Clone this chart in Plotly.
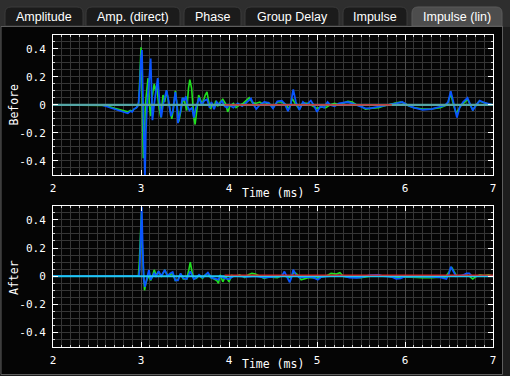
import plotly.graph_objects as go

# ---------------- data ----------------
tab_labels = ["Amplitude", "Amp. (direct)", "Phase", "Group Delay", "Impulse", "Impulse (lin)"]
active_tab = "Impulse (lin)"

x_range = [2, 7]
y_range = [-0.5, 0.5]
x_tickvals = [2, 3, 4, 5, 6, 7]
x_ticktext = ["2", "3", "4", "5", "6", "7"]
y_tickvals = [-0.4, -0.2, 0, 0.2, 0.4]
y_ticktext = ["-0.4", "-0.2", "0", "0.2", "0.4"]
x_title = "Time (ms)"
panel_titles = ["Before", "After"]

# Before: green trace
before_green_t = [2.0, 2.55, 2.6, 2.7, 2.8, 2.85, 2.88, 2.9, 2.92, 2.94, 2.96, 2.975, 2.99, 3.0, 3.008,
                  3.018, 3.026, 3.035, 3.05, 3.065, 3.08, 3.095, 3.11, 3.125, 3.15, 3.165, 3.18, 3.2,
                  3.225, 3.25, 3.27, 3.29, 3.31, 3.33, 3.35, 3.37, 3.39, 3.41, 3.43, 3.46, 3.48, 3.5,
                  3.52, 3.54, 3.555, 3.575, 3.6, 3.615, 3.635, 3.655, 3.68, 3.7, 3.73, 3.75, 3.77,
                  3.79, 3.81, 3.83, 3.85, 3.87, 3.9, 3.93, 3.96, 3.985, 4.01, 4.05, 4.08, 4.12, 4.16,
                  4.2, 4.23, 4.26, 4.3, 4.35, 4.4, 4.45, 4.5, 4.55, 4.6, 4.65, 4.68, 4.72, 4.76, 4.8,
                  4.84, 4.9, 4.95, 5.0, 5.05, 5.1, 5.15, 5.2, 5.25, 5.3, 5.35, 5.4, 5.45, 5.5, 5.55,
                  5.6, 5.65, 5.7, 5.75, 5.8, 5.9, 5.95, 6.0, 6.05, 6.1, 6.2, 6.3, 6.4, 6.45, 6.48,
                  6.5, 6.52, 6.55, 6.58, 6.61, 6.64, 6.68, 6.71, 6.74, 6.77, 6.8, 6.84, 6.88, 6.95, 7.0]
before_green_v = [0, 0, -0.005, -0.025, -0.045, -0.05, -0.04, -0.045, -0.03, -0.025, -0.01, 0.02, 0.25,
                  0.41, 0.3, -0.1, -0.38, -0.3, 0.0, 0.1, 0.19, 0.0, -0.08, 0.05, 0.15, 0.1, 0.14, 0.0,
                  -0.09, 0.07, 0.02, 0.1, 0.03, -0.04, -0.1, -0.02, 0.1, 0.0, -0.12, -0.02, 0.05, 0.01,
                  -0.04, 0.12, 0.18, 0.12, -0.09, -0.14, -0.04, 0.07, 0.03, 0.01, 0.07, 0.093, 0.02,
                  -0.03, 0.01, -0.02, 0.03, -0.01, 0.02, 0.04, 0.01, -0.05, -0.01, 0.01, -0.02, 0.0,
                  0.01, 0.03, 0.05, 0.02, 0.01, 0.02, 0.0, 0.015, -0.02, 0.02, 0.02, 0.0, -0.03, 0.045,
                  0.0, -0.03, 0.015, 0.01, -0.01, -0.025, -0.015, -0.02, 0.0, 0.01, 0.0, 0.015, 0.025,
                  0.02, 0.0, -0.01, -0.03, -0.025, -0.025, -0.02, -0.01, 0.0, 0.015, 0.02, 0.01, -0.01,
                  -0.02, -0.03, -0.03, -0.02, -0.005, 0.0, 0.04, 0.08, 0.0, -0.06, -0.03, 0.0, 0.02,
                  0.04, 0.0, -0.035, -0.01, 0.025, 0.02, 0.005, 0.0]

# Before: blue trace
before_blue_t = [2.0, 2.55, 2.6, 2.7, 2.8, 2.85, 2.88, 2.9, 2.92, 2.95, 2.97, 2.985, 3.0, 3.011, 3.02,
                 3.035, 3.045, 3.055, 3.07, 3.09, 3.11, 3.12, 3.13, 3.145, 3.165, 3.19, 3.21, 3.23,
                 3.25, 3.27, 3.29, 3.31, 3.34, 3.36, 3.39, 3.405, 3.42, 3.45, 3.47, 3.49, 3.51, 3.53,
                 3.55, 3.58, 3.6, 3.62, 3.66, 3.69, 3.72, 3.75, 3.78, 3.8, 3.83, 3.86, 3.89, 3.92,
                 3.95, 3.98, 4.0, 4.05, 4.1, 4.15, 4.2, 4.25, 4.28, 4.31, 4.35, 4.4, 4.45, 4.5, 4.55,
                 4.6, 4.63, 4.67, 4.7, 4.73, 4.76, 4.8, 4.84, 4.88, 4.93, 4.97, 5.0, 5.04, 5.08, 5.12,
                 5.15, 5.2, 5.25, 5.3, 5.35, 5.4, 5.45, 5.5, 5.55, 5.6, 5.65, 5.7, 5.8, 5.9, 5.97,
                 6.02, 6.1, 6.2, 6.3, 6.4, 6.45, 6.49, 6.52, 6.55, 6.575, 6.59, 6.62, 6.66, 6.71,
                 6.74, 6.77, 6.81, 6.85, 6.9, 6.95, 7.0]
before_blue_v = [0, 0, -0.01, -0.03, -0.05, -0.06, -0.045, -0.05, -0.03, -0.02, 0.0, 0.12, 0.33, 0.39,
                 0.1, -0.35, -0.52, -0.2, 0.02, 0.15, 0.33, 0.1, -0.11, -0.02, 0.08, 0.19, 0.02, -0.09,
                 0.0, 0.06, 0.105, 0.04, -0.08, -0.05, 0.09, 0.02, -0.13, -0.04, 0.05, 0.03, 0.06,
                 -0.01, -0.04, -0.02, -0.09, -0.03, 0.05, 0.0, 0.03, 0.04, -0.02, 0.02, -0.03, 0.02,
                 0.0, 0.03, -0.01, -0.02, 0.0, -0.02, 0.01, -0.01, 0.02, 0.045, 0.0, -0.03, 0.0, 0.02,
                 0.015, -0.025, 0.025, 0.03, 0.01, -0.045, 0.0, 0.11, 0.02, -0.035, 0.02, 0.0, 0.03,
                 -0.01, -0.05, -0.01, -0.02, 0.02, 0.0, -0.01, 0.01, 0.015, 0.02, 0.01, 0.0, -0.01,
                 -0.025, -0.025, -0.02, -0.015, -0.005, 0.01, 0.02, 0.0, -0.02, -0.035, -0.03, -0.015,
                 -0.005, 0.02, 0.098, 0.02, -0.06, -0.09, -0.02, 0.02, 0.05, 0.01, -0.04, 0.0, 0.03,
                 0.015, 0.005, 0.0]

# After: green trace
after_green_t = [2.0, 2.97, 2.98, 2.995, 3.005, 3.015, 3.03, 3.04, 3.055, 3.07, 3.09, 3.11, 3.13, 3.15,
                 3.17, 3.2, 3.23, 3.27, 3.3, 3.33, 3.36, 3.39, 3.42, 3.45, 3.48, 3.52, 3.545, 3.56,
                 3.58, 3.6, 3.63, 3.66, 3.7, 3.73, 3.76, 3.79, 3.83, 3.86, 3.88, 3.9, 3.93, 3.96, 4.0,
                 4.03, 4.08, 4.12, 4.18, 4.22, 4.26, 4.3, 4.35, 4.4, 4.45, 4.5, 4.55, 4.6, 4.65, 4.7,
                 4.74, 4.78, 4.82, 4.86, 4.9, 4.95, 5.0, 5.05, 5.1, 5.16, 5.22, 5.26, 5.3, 5.35, 5.45,
                 5.5, 5.6, 5.7, 5.8, 5.9, 6.0, 6.1, 6.2, 6.3, 6.4, 6.46, 6.5, 6.53, 6.56, 6.59, 6.65,
                 6.7, 6.74, 6.77, 6.8, 6.85, 6.9, 6.95, 7.0]
after_green_v = [0, 0, 0.09, 0.35, 0.45, 0.2, -0.05, -0.1, -0.05, -0.02, 0.0, -0.03, 0.0, 0.045, 0.01,
                 0.03, 0.0, 0.04, 0.01, 0.01, 0.02, -0.03, -0.025, 0.015, -0.02, -0.02, 0.05, 0.1, 0.03,
                 -0.02, -0.015, 0.005, -0.015, 0.01, 0.02, -0.01, -0.02, -0.03, -0.05, 0.01, -0.04, 0.0,
                 -0.04, 0.005, 0.0, 0.01, -0.01, 0.01, 0.02, 0.015, 0.0, -0.015, -0.005, -0.005, -0.01,
                 0.005, 0.0, -0.01, 0.03, 0.01, -0.025, -0.02, -0.01, -0.01, -0.015, -0.005, 0.0, 0.02,
                 0.015, 0.025, 0.0, -0.005, -0.005, -0.01, 0.0, 0.005, 0.0, -0.01, -0.005, -0.01, -0.01,
                 -0.01, -0.01, -0.005, 0.03, 0.065, 0.03, 0.0, 0.005, 0.01, -0.005, -0.02, -0.005, 0.01,
                 0.005, 0.01, 0.0]

# After: blue trace
after_blue_t = [2.0, 2.975, 2.985, 3.0, 3.008, 3.018, 3.03, 3.045, 3.06, 3.075, 3.09, 3.11, 3.13, 3.15,
                3.17, 3.2, 3.23, 3.27, 3.3, 3.33, 3.36, 3.39, 3.42, 3.45, 3.48, 3.52, 3.56, 3.6, 3.63,
                3.66, 3.7, 3.76, 3.8, 3.84, 3.88, 3.9, 3.95, 4.0, 4.05, 4.1, 4.2, 4.3, 4.4, 4.5, 4.6,
                4.63, 4.66, 4.69, 4.71, 4.73, 4.76, 4.8, 4.9, 4.96, 5.01, 5.05, 5.15, 5.25, 5.3, 5.37,
                5.45, 5.5, 5.6, 5.7, 5.75, 5.85, 5.9, 5.95, 6.0, 6.1, 6.2, 6.3, 6.4, 6.47, 6.5, 6.52,
                6.55, 6.58, 6.65, 6.7, 6.73, 6.76, 6.85, 7.0]
after_blue_v = [0, 0, 0.05, 0.4, 0.49, 0.25, -0.02, -0.075, -0.04, 0.01, 0.045, -0.025, 0.0, 0.02, 0.0,
                0.035, 0.0, 0.045, 0.0, 0.02, 0.03, -0.03, -0.03, 0.02, -0.015, -0.02, 0.035, -0.02,
                -0.01, 0.01, -0.01, 0.025, -0.01, -0.02, -0.025, 0.0, -0.015, -0.02, 0.0, 0.0, -0.005,
                0.0, -0.01, -0.005, 0.0, 0.033, 0.0, -0.043, -0.01, 0.047, 0.01, -0.01, -0.005, -0.01,
                -0.025, -0.005, 0.0, 0.005, 0.0, -0.01, -0.012, -0.008, 0.008, 0.01, 0.0, -0.005,
                -0.018, -0.015, -0.002, 0.0, -0.003, -0.005, -0.008, -0.02, 0.02, 0.068, 0.035, 0.0,
                0.005, 0.02, 0.02, 0.0, 0.0, 0.0]

# reference / residual lines
before_ref_t = [2.0, 7.0]
before_ref_v = [0.0, 0.0]
before_red_t = [3.95, 5.85]
before_red_v = [0.0, 0.0]
after_ref_t = [2.0, 7.0]
after_ref_v = [0.0, 0.0]
after_red_t = [3.95, 7.0]
after_red_v = [0.008, 0.008]

# ---------------- layout helpers ----------------
W, H = 510, 376
def px(x):
    return x / W
def py(y):
    return 1 - y / H

MONO = "DejaVu Sans Mono"
GREEN = "#1fe01f"
BLUE = "#0a55ff"
TEAL = "#54a6a6"
CYAN = "#22c8f2"
RED = "#e02020"

fig = go.Figure()

def add_lines(xa, ya, items):
    for t, v, color, width in items:
        fig.add_trace(go.Scatter(x=t, y=v, mode="lines", xaxis=xa, yaxis=ya,
                                 line=dict(color=color, width=width), hoverinfo="skip",
                                 showlegend=False))

add_lines("x", "y", [
    (before_green_t, before_green_v, GREEN, 1.6),
    (before_blue_t, before_blue_v, BLUE, 1.8),
    (before_ref_t, before_ref_v, TEAL, 2.4),
    (before_red_t, before_red_v, RED, 1.4),
])
add_lines("x2", "y2", [
    (after_green_t, after_green_v, GREEN, 1.6),
    (after_blue_t, after_blue_v, BLUE, 1.8),
    (after_ref_t, after_ref_v, CYAN, 2.0),
    (after_red_t, after_red_v, RED, 1.3),
])

xdom = [px(53), px(493)]
ydom_top = [py(175), py(34.7)]
ydom_bot = [py(346.7), py(205.7)]

def xaxis_cfg(anchor):
    return dict(domain=xdom, range=x_range, anchor=anchor, tickmode="array",
                tickvals=x_tickvals, ticktext=x_ticktext,
                ticks="inside", ticklen=5, tickcolor="#ffffff", tickwidth=1,
                showline=True, linecolor="#ffffff", linewidth=1, mirror="allticks",
                showgrid=True, gridcolor="#4c4c4c", gridwidth=1, zeroline=False,
                tickfont=dict(family=MONO, size=11, color="#ffffff"),
                ticklabelstandoff=3,
                minor=dict(dtick=0.1, tick0=2, ticks="inside", ticklen=2, tickcolor="#d0d0d0",
                           showgrid=True, gridcolor="#363636", gridwidth=1),
                fixedrange=True, automargin=False)

def yaxis_cfg(anchor, dom):
    return dict(domain=dom, range=y_range, anchor=anchor, tickmode="array",
                tickvals=y_tickvals, ticktext=y_ticktext,
                ticks="inside", ticklen=5, tickcolor="#ffffff", tickwidth=1,
                showline=True, linecolor="#ffffff", linewidth=1, mirror="allticks",
                showgrid=True, gridcolor="#363636", gridwidth=1, zeroline=False,
                tickfont=dict(family=MONO, size=11, color="#ffffff"),
                ticklabelstandoff=4,
                minor=dict(dtick=0.05, tick0=0, ticks="inside", ticklen=2, tickcolor="#d0d0d0",
                           showgrid=True, gridcolor="#363636", gridwidth=1),
                fixedrange=True, automargin=False)

shapes = []
# outer tab strip background
shapes.append(dict(type="rect", xref="paper", yref="paper", x0=0, x1=1, y0=py(27), y1=1,
                   fillcolor="#2e2e2e", line=dict(width=0), layer="below"))
# content panel
shapes.append(dict(type="rect", xref="paper", yref="paper", x0=px(1), x1=px(502.5), y0=py(374.5),
                   y1=py(26.5), fillcolor="#050505", line=dict(color="#5e5e5e", width=1),
                   layer="below"))

# tabs
tab_edges = [(5, 83), (86, 180), (184, 241), (245, 339), (343, 407), (412, 502)]
annotations = []
r = 6
for (x0, x1), label in zip(tab_edges, tab_labels):
    top, bot = 7, 26
    path = (f"M {px(x0)},{py(bot)} L {px(x0)},{py(top + r)} "
            f"Q {px(x0)},{py(top)} {px(x0 + r)},{py(top)} "
            f"L {px(x1 - r)},{py(top)} Q {px(x1)},{py(top)} {px(x1)},{py(top + r)} "
            f"L {px(x1)},{py(bot)} Z")
    active = label == active_tab
    shapes.append(dict(type="path", xref="paper", yref="paper", path=path,
                       fillcolor="#4d4d4d" if active else "#1b1b1b",
                       line=dict(color="#3a3a3a" if not active else "#5a5a5a", width=1),
                       layer="below"))
    annotations.append(dict(text=label, x=px((x0 + x1) / 2), y=py(16.7), xref="paper",
                            yref="paper", showarrow=False, xanchor="center", yanchor="middle",
                            font=dict(family="Liberation Sans", size=12.5, color="#ffffff")))

# separator line under tabs
shapes.append(dict(type="line", xref="paper", yref="paper", x0=px(1), x1=px(503), y0=py(26.5),
                   y1=py(26.5), line=dict(color="#5e5e5e", width=1), layer="below"))

# axis titles
for yc in (192.7, 364.3):
    annotations.append(dict(text=x_title, x=px(273), y=py(yc), xref="paper", yref="paper",
                            showarrow=False, xanchor="center", yanchor="middle",
                            font=dict(family=MONO, size=11.5, color="#ffffff")))
for label, yc in zip(panel_titles, (105, 277.5)):
    annotations.append(dict(text=label, x=px(13.5), y=py(yc), xref="paper", yref="paper",
                            showarrow=False, xanchor="center", yanchor="middle", textangle=-90,
                            font=dict(family=MONO, size=11.5, color="#ffffff")))

fig.update_layout(
    width=W, height=H, margin=dict(l=0, r=0, t=0, b=0),
    paper_bgcolor="#1e1e1e", plot_bgcolor="#050505",
    xaxis=xaxis_cfg("y"), yaxis=yaxis_cfg("x", ydom_top),
    xaxis2=xaxis_cfg("y2"), yaxis2=yaxis_cfg("x2", ydom_bot),
    shapes=shapes, annotations=annotations, showlegend=False,
)

fig.write_html("out.html", config={"displayModeBar": False, "staticPlot": True})
